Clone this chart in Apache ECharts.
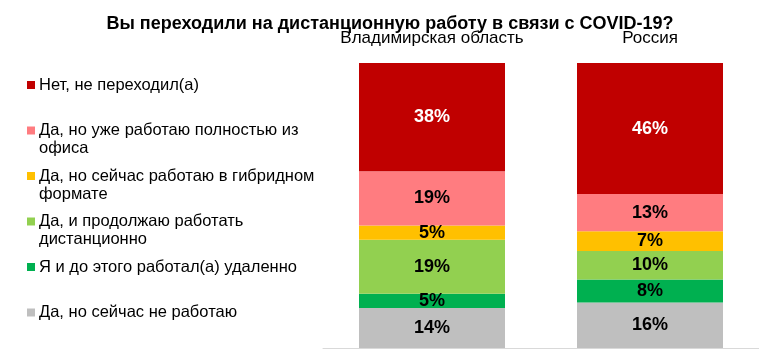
<!DOCTYPE html>
<html>
<head>
<meta charset="utf-8">
<script src="https://cdn.jsdelivr.net/npm/echarts@6/dist/echarts.min.js"></script>
<style>
  html, body { margin: 0; padding: 0; background: #fff; }
  #chart { width: 759px; height: 351px; }
</style>
</head>
<body>
<div id="chart"></div>
<script>
var regions = ['Владимирская область', 'Россия'];
// от верхнего сегмента к нижнему
var answers = [
    'Нет, не переходил(а)',
    'Да, но уже работаю полностью из\nофиса',
    'Да, но сейчас работаю в гибридном\nформате',
    'Да, и продолжаю работать\nдистанционно',
    'Я и до этого работал(а) удаленно',
    'Да, но сейчас не работаю'
];
var colors = ['#C00000', '#FF7C80', '#FFC000', '#92D050', '#00B050', '#BFBFBF'];
var vladimir = [38, 19, 5, 19, 5, 14];
var russia = [46, 13, 7, 10, 8, 16];

var myChart = echarts.init(document.getElementById('chart'));

var series = [];
var rich = {};
// снизу вверх: серый первым
for (var i = answers.length - 1; i >= 0; i--) {
    series.push({
        name: answers[i],
        type: 'bar',
        stack: 'total',
        barWidth: 146,
        itemStyle: { color: colors[i] },
        label: {
            show: true,
            position: 'inside',
            formatter: '{c}%',
            color: i === 0 ? '#fff' : '#000',
            fontSize: 18,
            fontWeight: 'bold',
            fontFamily: 'Liberation Sans, Arial'
        },
        data: [vladimir[i], russia[i]]
    });
}
answers.forEach(function (a, i) {
    rich['sq' + i] = { width: 8, height: 8, backgroundColor: colors[i] };
});
rich.t = { fontSize: 16.5, lineHeight: 18, color: '#000', padding: [0, 0, 0, 4] };
rich.ind = { width: 8, lineHeight: 18 };

var option = {
    animation: false,
    title: {
        text: 'Вы переходили на дистанционную работу в связи с COVID-19?',
        left: 385,
        textAlign: 'center',
        top: 10,
        textStyle: {
            fontSize: 18,
            fontWeight: 'bold',
            color: '#000',
            fontFamily: 'Liberation Sans, Arial'
        }
    },
    legend: {
        orient: 'vertical',
        left: 22,
        top: 76,
        padding: 0,
        itemGap: 9.5,
        itemWidth: 0,
        itemHeight: 0,
        icon: 'none',
        selectedMode: false,
        data: answers,
        formatter: function (name) {
            var idx = answers.indexOf(name);
            var parts = name.split('\n');
            var s = '{sq' + idx + '|}{t|' + parts[0] + '}';
            s += '\n{ind|}{t|' + (parts[1] || ' ') + '}';
            return s;
        },
        textStyle: {
            fontFamily: 'Liberation Sans, Arial',
            fontSize: 16.5,
            lineHeight: 18,
            rich: rich
        }
    },
    grid: { left: 323, right: 0, top: 63, bottom: 3 },
    xAxis: [
        {
            type: 'category',
            position: 'top',
            data: regions,
            axisLine: { show: false },
            axisTick: { show: false },
            axisLabel: {
                interval: 0,
                margin: 16,
                fontSize: 17,
                color: '#000',
                fontFamily: 'Liberation Sans, Arial'
            }
        },
        {
            type: 'category',
            position: 'bottom',
            data: regions,
            axisLine: { show: true, lineStyle: { color: '#D9D9D9', width: 1 } },
            axisTick: { show: false },
            axisLabel: { show: false }
        }
    ],
    yAxis: {
        type: 'value',
        min: 0,
        max: 100,
        show: false
    },
    series: series
};
myChart.setOption(option);
</script>
</body>
</html>
